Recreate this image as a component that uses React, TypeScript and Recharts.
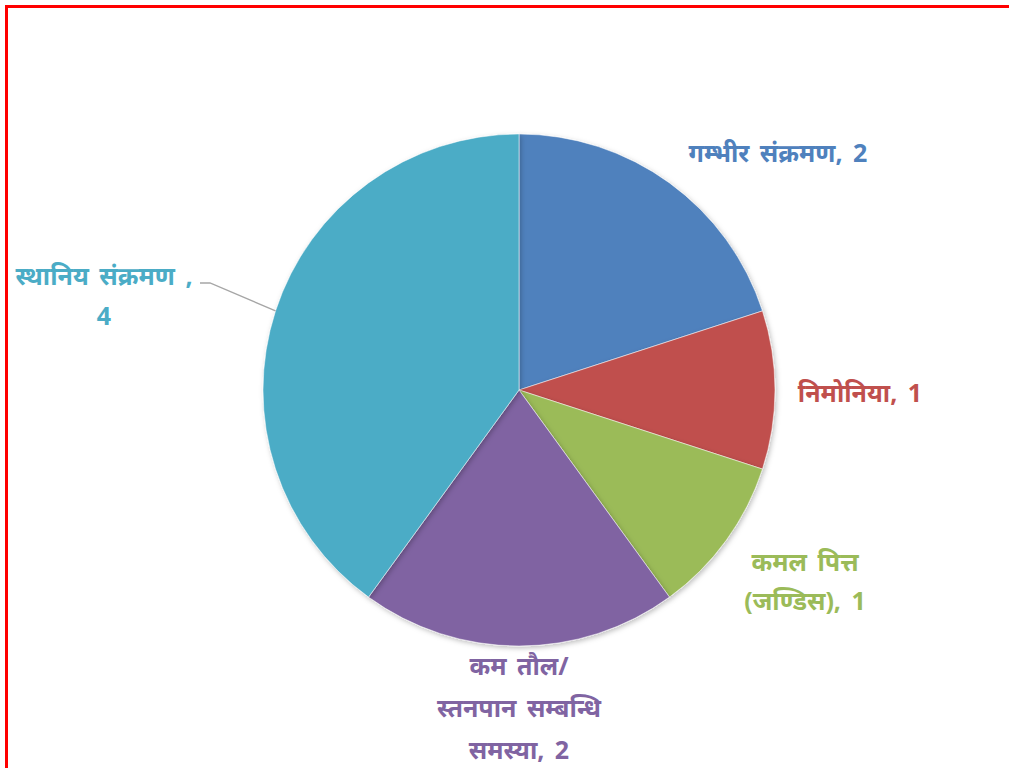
import { PieChart, Pie, Cell } from "recharts";

const categories = [
  "गम्भीर संक्रमण",
  "निमोनिया",
  "कमल पित्त (जण्डिस)",
  "कम तौल/ स्तनपान सम्बन्धि समस्या",
  "स्थानिय संक्रमण ",
];
const values = [2, 1, 1, 2, 4];
const colors = ["#4F81BD", "#C0504D", "#9BBB59", "#8064A2", "#4BACC6"];

// label lines as Excel wrapped them
const labelLines = [
  ["गम्भीर संक्रमण, 2"],
  ["निमोनिया, 1"],
  ["कमल पित्त", "(जण्डिस), 1"],
  ["कम तौल/", "स्तनपान सम्बन्धि", "समस्या, 2"],
  ["स्थानिय संक्रमण ,", "4"],
];

// label centre / first baseline offset from pie centre, and line spacing
const labelOffsets = [
  [259, -228, 42],
  [341, 12, 42],
  [286, 181, 39],
  [0, 285, 42],
  [-415, -105, 40],
];

const data = categories.map((name, i) => ({ name, value: values[i] }));

const CX = 519;
const CY = 390;
const R = 256;

function renderLabel(props: any) {
  const i = props.index;
  const [dx, dy, lh] = labelOffsets[i];
  const x = props.cx + dx;
  const y = props.cy + dy;
  const lines = labelLines[i];
  const rad = (-props.midAngle * Math.PI) / 180;
  const ex = props.cx + props.outerRadius * Math.cos(rad);
  const ey = props.cy + props.outerRadius * Math.sin(rad);
  return (
    <g key={`lbl-${i}`}>
      {i === 4 && (
        <polyline
          points={`${x + 96},${y - 2} ${x + 106},${y - 2} ${ex},${ey}`}
          fill="none"
          stroke="#A6A6A6"
          strokeWidth={1.3}
        />
      )}
      <text
        x={x}
        y={y}
        textAnchor="middle"
        fill={colors[i]}
        fontSize={25}
        fontWeight="bold"
        wordSpacing={4}
        fontFamily="'Noto Sans', 'DejaVu Sans', sans-serif"
      >
        {lines.map((l, k) => (
          <tspan key={k} x={x} dy={k === 0 ? 0 : lh}>
            {l}
          </tspan>
        ))}
      </text>
    </g>
  );
}

export default function App() {
  return (
    <div
      style={{
        position: "fixed",
        left: 0,
        top: 0,
        width: 1009,
        height: 768,
        overflow: "hidden",
        background: "#fff",
      }}
    >
      <div style={{ position: "absolute", left: 0, top: 0 }}>
        <PieChart width={1009} height={768} margin={{ top: 0, right: 0, bottom: 0, left: 0 }}>
          <defs>
            <filter id="pieShadow" x="-10%" y="-10%" width="120%" height="120%">
              <feDropShadow dx="1.5" dy="2" stdDeviation="2.5" floodColor="#000" floodOpacity="0.25" />
            </filter>
          </defs>
          <Pie
            data={data}
            dataKey="value"
            nameKey="name"
            cx={CX}
            cy={CY}
            outerRadius={R}
            startAngle={90}
            endAngle={-270}
            stroke="#fff"
            strokeWidth={0.5}
            label={renderLabel}
            labelLine={false}
            isAnimationActive={false}
            style={{ filter: "url(#pieShadow)" }}
          >
            {data.map((d, i) => (
              <Cell key={d.name} fill={colors[i]} />
            ))}
          </Pie>
        </PieChart>
      </div>
      <div
        style={{
          position: "absolute",
          left: 5,
          top: 5,
          width: 1100,
          height: 900,
          border: "3px solid #FF0000",
          boxSizing: "border-box",
          zIndex: 2,
          pointerEvents: "none",
        }}
      />
    </div>
  );
}
